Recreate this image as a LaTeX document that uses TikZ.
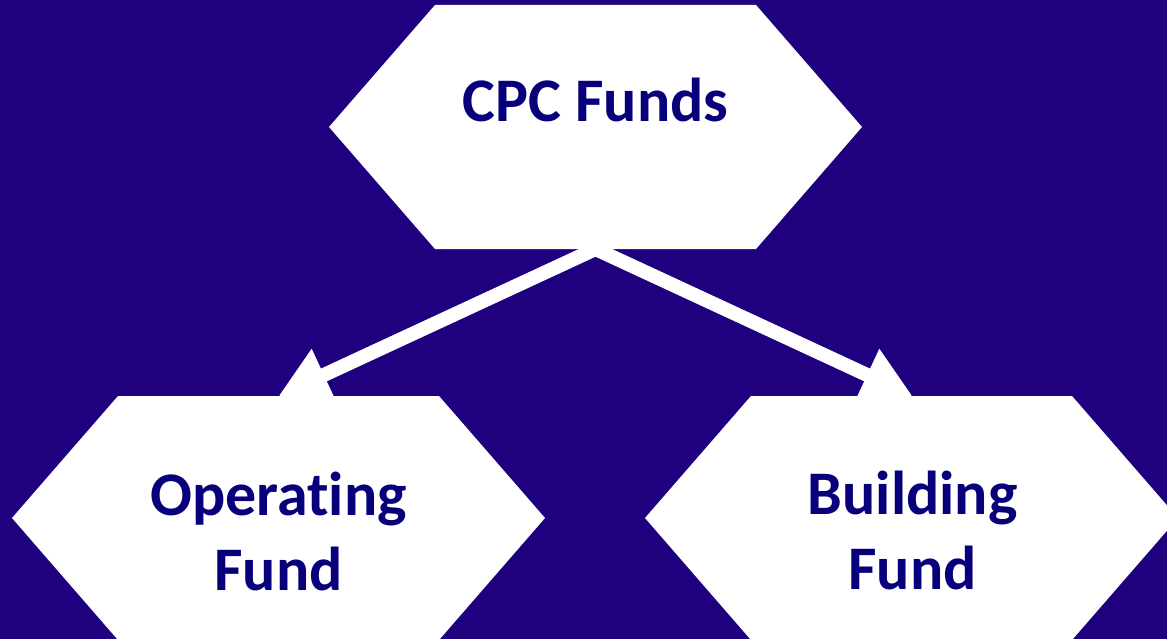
\documentclass[tikz,border=0pt]{standalone}
\usepackage{fontspec}
\setmainfont{Carlito}[RawFeature=-liga]
\usetikzlibrary{arrows.meta}
\definecolor{bgblue}{RGB}{31,0,127}
\definecolor{navytext}{RGB}{8,0,122}
\tikzset{
every picture/.style={
line width=1pt
}}
% hexagon with its centre at (#1,#2)
\newcommand{\hexat}[2]{\fill[white] ({#1-266.5},#2) -- ++(106,-122) -- ++(321,0)
-- ++(106,122) -- ++(-106,122) -- ++(-321,0) -- cycle;}

\begin{document}
\begin{tikzpicture}[x=1pt, y=-1pt,
fundtext/.style = {text=navytext, font=\bfseries\fontsize{62}{75}\selectfont, align=center},
link/.style = {draw=white, line width=14pt, -{Triangle[length=50pt,width=54pt]}}]
\fill[bgblue] (0,0) rectangle (1167,639);
\clip (0,0) rectangle (1167,639);
\hexat{595.5}{127}
\hexat{278.5}{518}
\hexat{911.5}{518}
\coordinate (cpc-s) at (595.5,249);
\coordinate (op-n) at (278.5,396);
\coordinate (bld-n) at (912.5,396);
\node[fundtext, anchor=base] at (595.5,122) (cpc) {CPC Funds};
\node[fundtext, anchor=base] at (278.5,590) (op) {Operating\\Fund};
\node[fundtext, anchor=base] at (912.5,589) (bld) {Building\\Fund};
\draw[link] (cpc-s) -- (op-n);
\draw[link] (cpc-s) -- (bld-n);
\end{tikzpicture}
\end{document}
